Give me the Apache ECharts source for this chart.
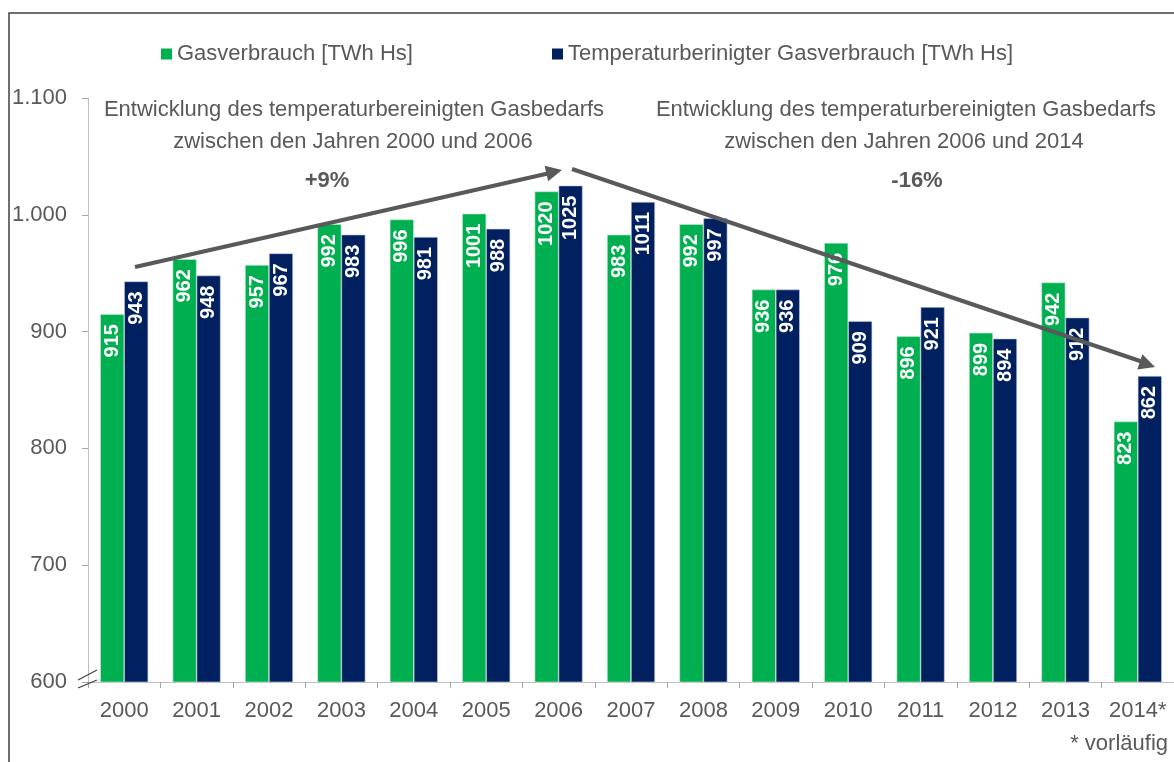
<!DOCTYPE html>
<html><head><meta charset="utf-8">
<script src="https://cdn.jsdelivr.net/npm/echarts@6/dist/echarts.min.js"></script>
<style>html,body{margin:0;padding:0;background:#fff}#c{width:1174px;height:762px}</style>
</head><body><div id="c"></div>
<script>
const categories = ['2000','2001','2002','2003','2004','2005','2006','2007','2008','2009','2010','2011','2012','2013','2014*'];
const gasverbrauch = [915,962,957,992,996,1001,1020,983,992,936,976,896,899,942,823];
const tempBereinigt = [943,948,967,983,981,988,1025,1011,997,936,909,921,894,912,862];
const seriesNames = ['Gasverbrauch [TWh Hs]','Temperaturberinigter Gasverbrauch [TWh Hs]'];
const yTickLabels = {600:'600',700:'700',800:'800',900:'900',1000:'1.000',1100:'1.100'};

const FONT = '"Liberation Sans", Arial, sans-serif';
const TXT = '#595959';
const FS = 22;
const chart = echarts.init(document.getElementById('c'), null, {renderer:'canvas'});

const lbl = {
  show:true, position:'insideTop', rotate:90, align:'right', verticalAlign:'middle',
  distance:10, color:'#fff', fontWeight:'bold', fontSize:20, fontFamily:FONT
};

function arrowHead(tipX, tipY, fromX, fromY, len, half){
  const dx = tipX-fromX, dy = tipY-fromY, L = Math.hypot(dx,dy);
  const ux = dx/L, uy = dy/L, px = -uy, py = ux;
  const bx = tipX-ux*len, by = tipY-uy*len;
  return {type:'polygon', shape:{points:[[tipX,tipY],[bx+px*half,by+py*half],[bx-px*half,by-py*half]]}, style:{fill:'#595959'}, z:100};
}
function txt(t, x, y, bold, align){
  return {type:'text', style:{text:t, x:x, y:y, align:align||'center', verticalAlign:'middle', fill:TXT, font:(bold?'bold ':'')+FS+'px '+FONT}, z:100};
}

chart.setOption({
  animation:false,
  textStyle:{fontFamily:FONT},
  grid:{left:88, top:98, width:1093, height:584},
  legend:[
    {data:[seriesNames[0]], left:156, top:38, icon:'rect', itemWidth:11, itemHeight:11, itemGap:5,
     itemStyle:{borderWidth:0}, textStyle:{fontSize:FS, color:TXT, fontFamily:FONT}},
    {data:[seriesNames[1]], left:547, top:38, icon:'rect', itemWidth:11, itemHeight:11, itemGap:5,
     itemStyle:{borderWidth:0}, textStyle:{fontSize:FS, color:TXT, fontFamily:FONT}}
  ],
  xAxis:{
    type:'category', data:categories,
    axisLine:{lineStyle:{color:'#bfbfbf', width:1}},
    axisTick:{show:true, interval:0, length:6, lineStyle:{color:'#a6a6a6'}},
    axisLabel:{interval:0, fontSize:FS, color:TXT, margin:18, fontFamily:FONT, hideOverlap:false}
  },
  yAxis:{
    type:'value', min:600, max:1100, interval:100,
    axisLine:{show:true, lineStyle:{color:'#bfbfbf', width:1}},
    axisTick:{show:true, length:6, lineStyle:{color:'#a6a6a6'}},
    splitLine:{show:false},
    axisLabel:{fontSize:FS, color:TXT, margin:21, fontFamily:FONT, formatter:v=>yTickLabels[v]||String(v)}
  },
  series:[
    {name:seriesNames[0], type:'bar', data:gasverbrauch, barWidth:24, barGap:'0%',
     itemStyle:{color:'#00b050', borderColor:'#c9e8d4', borderWidth:0.6}, label:lbl},
    {name:seriesNames[1], type:'bar', data:tempBereinigt, barWidth:24, barGap:'0%',
     itemStyle:{color:'#002060', borderColor:'#c7cde0', borderWidth:0.6}, label:lbl}
  ],
  graphic:[
    {type:'rect', shape:{x:9, y:13, width:1300, height:900}, style:{fill:'none', stroke:'#404040', lineWidth:1.5}, z:0},
    {type:'line', shape:{x1:78,y1:680,x2:97,y2:670}, style:{stroke:'#404040', lineWidth:1.2}, z:100},
    {type:'line', shape:{x1:78,y1:688,x2:97,y2:680}, style:{stroke:'#404040', lineWidth:1.2}, z:100},
    txt('Entwicklung des temperaturbereinigten Gasbedarfs', 354, 110),
    txt('zwischen den Jahren 2000 und 2006', 353, 142),
    txt('+9%', 327, 181, true),
    txt('Entwicklung des temperaturbereinigten Gasbedarfs', 906, 110),
    txt('zwischen den Jahren 2006 und 2014', 904, 142),
    txt('-16%', 917, 181, true),
    txt('* vorläufig', 1168, 744, false, 'right'),
    {type:'line', shape:{x1:135,y1:267,x2:550,y2:173}, style:{stroke:'#595959', lineWidth:4}, z:100},
    arrowHead(562,170,135,267,16,8),
    {type:'line', shape:{x1:572,y1:169,x2:1143,y2:362}, style:{stroke:'#595959', lineWidth:4}, z:100},
    arrowHead(1155,367,572,169,16,8)
  ]
});
</script></body></html>
